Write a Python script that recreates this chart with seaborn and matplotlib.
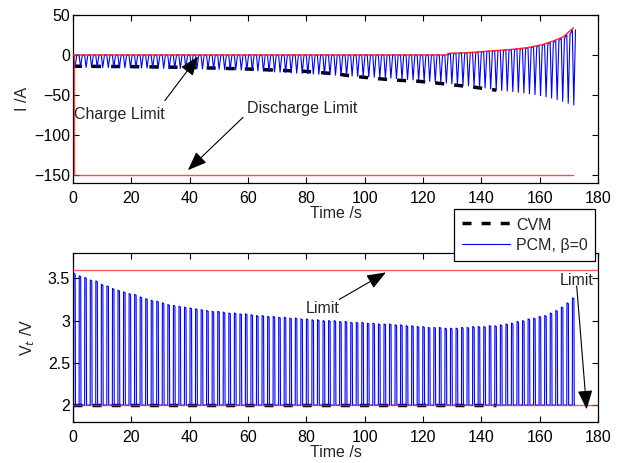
import numpy as np
import matplotlib
matplotlib.use("Agg")
import matplotlib.pyplot as plt
import seaborn as sns

# ---------------- data ----------------
PULSE_START = 0.2      # s, first PCM pulse
PULSE_PERIOD = 1.9     # s, PCM pulse period

# PCM terminal-voltage peak of every pulse (V)
pcm_v_peak = [
    3.56, 3.53, 3.51, 3.48, 3.47, 3.43, 3.41, 3.38, 3.36, 3.34,
    3.32, 3.31, 3.28, 3.26, 3.24, 3.23, 3.21, 3.19, 3.18, 3.17,
    3.16, 3.15, 3.14, 3.13, 3.12, 3.11, 3.11, 3.10, 3.09, 3.09,
    3.08, 3.08, 3.07, 3.06, 3.06, 3.05, 3.05, 3.04, 3.04, 3.03,
    3.03, 3.02, 3.02, 3.01, 3.01, 3.00, 3.00, 3.00, 2.99, 2.99,
    2.98, 2.98, 2.98, 2.97, 2.97, 2.96, 2.96, 2.96, 2.95, 2.95,
    2.94, 2.94, 2.93, 2.93, 2.92, 2.92, 2.92, 2.91, 2.91, 2.91,
    2.92, 2.92, 2.93, 2.93, 2.93, 2.94, 2.94, 2.95, 2.96, 2.97,
    2.99, 3.00, 3.02, 3.03, 3.05, 3.06, 3.09, 3.12, 3.16, 3.21,
    3.27,
]
pcm_v_low = 2.0

# PCM current: lowest value of every pulse (A)
pcm_i_low = [
    -15.5, -15.5, -15.6, -15.6, -15.7, -15.7, -15.8, -15.8, -15.9, -15.9,
    -16.0, -16.1, -16.2, -16.3, -16.4, -16.5, -16.6, -16.7, -16.8, -16.9,
    -17.0, -17.1, -17.3, -17.4, -17.6, -17.7, -17.9, -18.1, -18.3, -18.5,
    -18.8, -19.1, -19.5, -19.9, -20.3, -20.7, -21.1, -21.5, -21.9, -22.3,
    -22.7, -23.1, -23.4, -23.8, -24.1, -24.5, -24.8, -25.2, -25.6, -25.9,
    -26.3, -26.7, -27.0, -27.4, -27.8, -28.2, -28.6, -29.0, -29.5, -30.0,
    -30.6, -31.2, -31.8, -32.4, -33.0, -33.6, -34.3, -35.0, -36.0, -37.0,
    -37.8, -38.6, -39.4, -40.2, -41.2, -42.5, -43.5, -44.3, -45.0, -45.8,
    -46.6, -47.5, -48.5, -49.5, -50.8, -52.2, -53.8, -55.8, -58.0, -60.3,
    -62.5,
]
# PCM current: highest value of every pulse (A) = charge limit
pcm_i_high = [0.0] * 68 + [
    2.0, 2.2, 2.5, 2.8, 3.2, 3.6, 4.2, 5.0, 5.3, 5.8,
    6.3, 6.8, 7.5, 8.3, 9.3, 10.4, 11.8, 13.5, 15.5, 18.0,
    21.0, 25.5, 31.5,
]

# CVM current (A)
cvm_t = [0, 20, 40, 60, 70, 80, 90, 96, 104, 111, 118, 124, 131, 137, 145.2]
cvm_i = [-14.0, -14.5, -15.5, -17.5, -19.0, -20.5, -23.5, -26.5, -29.4,
         -31.5, -32.7, -34.8, -37.6, -40.0, -44.0]
# CVM voltage (V)
cvm_vt = [0, 145.2]
cvm_v = [2.0, 2.0]

# limits
chg_lim_t = [0, 128.5, 128.5, 133, 138, 143, 148, 152, 156, 161, 165, 168, 171.6]
chg_lim_i = [0, 0, 2.0, 2.5, 3.5, 5.0, 6.3, 7.5, 9.3, 13.0, 18.0, 22.5, 34.0]
dis_lim_t = [0.4, 0.4, 171.4]
dis_lim_i = [0, -150, -150]
v_max_t, v_max = [0, 180], [3.6, 3.6]
v_min_t, v_min = [0, 180], [2.0, 2.0]

x_ticks = [0, 20, 40, 60, 80, 100, 120, 140, 160, 180]
i_ticks = [-150, -100, -50, 0, 50]
v_ticks = [2, 2.5, 3, 3.5]
v_tick_labels = ["2", "2.5", "3", "3.5"]

# ---------------- build waveforms from the pulse values ----------------
n = len(pcm_v_peak)
t0 = PULSE_START + PULSE_PERIOD * np.arange(n)

vt, vv = [0.0], [0.0]
for k in range(n):
    vt += [t0[k], t0[k] + 0.05, t0[k] + 0.55, t0[k] + 0.65]
    vv += [pcm_v_low, pcm_v_peak[k], pcm_v_peak[k] - 0.01, pcm_v_low]
vt.append(172.0)
vv.append(pcm_v_low)

it, ii = [0.0], [0.0]
for k in range(n):
    it += [t0[k], t0[k] + 0.5, t0[k] + 1.1]
    ii += [pcm_i_high[k], pcm_i_low[k], pcm_i_high[k]]

# ---------------- figure ----------------
sns.set_theme(style="ticks")
FS = 11.5
plt.rcParams["font.family"] = ["Liberation Sans", "DejaVu Sans"]
plt.rcParams["font.size"] = FS

fig = plt.figure(figsize=(6.28, 4.63), dpi=100)
ax1 = fig.add_axes([0.1162, 0.6048, 0.836, 0.3628])
ax2 = fig.add_axes([0.1162, 0.0886, 0.836, 0.3650])

BLUE = "#0000ff"
RED = "#ff2020"
dash = (0, (2.6, 2.9))

# top: current
sns.lineplot(x=it, y=ii, ax=ax1, color=BLUE, lw=0.8, sort=False, estimator=None, zorder=2)
sns.lineplot(x=cvm_t, y=cvm_i, ax=ax1, color="black", lw=2.5, sort=False,
             estimator=None, zorder=1.5)
ax1.lines[-1].set_linestyle(dash)
sns.lineplot(x=chg_lim_t, y=chg_lim_i, ax=ax1, color=RED, lw=1.0, sort=False,
             estimator=None, zorder=3)
sns.lineplot(x=dis_lim_t, y=dis_lim_i, ax=ax1, color=RED, lw=1.0, sort=False,
             estimator=None, zorder=3, alpha=0.8)

ax1.set_xlim(0, 180)
ax1.set_ylim(-160, 50)
ax1.set_xticks(x_ticks)
ax1.set_yticks(i_ticks)
ax1.set_xlabel("Time /s", labelpad=0, fontsize=FS)
ax1.set_ylabel("I /A", labelpad=3, fontsize=FS)

arrow = dict(arrowstyle="-|>,head_length=0.9,head_width=0.35", color="black",
             lw=0.8, mutation_scale=13, shrinkA=0, shrinkB=0)
ax1.annotate("", xy=(42.9, -2), xytext=(31.5, -57), arrowprops=arrow)
ax1.text(0.4, -74, "Charge Limit", ha="left", va="center", fontsize=FS)
ax1.annotate("", xy=(39.4, -144), xytext=(58.3, -78), arrowprops=arrow)
ax1.text(59.5, -67, "Discharge Limit", ha="left", va="center", fontsize=FS)

# bottom: voltage
sns.lineplot(x=cvm_vt, y=cvm_v, ax=ax2, color="black", lw=2.5, sort=False,
             estimator=None, zorder=1.5, label="CVM")
ax2.lines[-1].set_linestyle(dash)
sns.lineplot(x=vt, y=vv, ax=ax2, color=BLUE, lw=0.8, sort=False, estimator=None,
             zorder=2, label="PCM, \u03b2=0")
sns.lineplot(x=v_max_t, y=v_max, ax=ax2, color=RED, lw=1.0, sort=False,
             estimator=None, zorder=3, alpha=0.75)
sns.lineplot(x=v_min_t, y=v_min, ax=ax2, color=RED, lw=1.0, sort=False,
             estimator=None, zorder=3, alpha=0.75)

ax2.set_xlim(0, 180)
ax2.set_ylim(1.8, 3.8)
ax2.set_xticks(x_ticks)
ax2.set_yticks(v_ticks)
ax2.set_yticklabels(v_tick_labels)
ax2.set_xlabel("Time /s", labelpad=0, fontsize=FS)
ax2.set_ylabel("V$_t$ /V", labelpad=8, fontsize=FS)

ax2.annotate("", xy=(107.3, 3.57), xytext=(91.3, 3.25), arrowprops=arrow)
ax2.text(79.9, 3.14, "Limit", ha="left", va="center", fontsize=FS)
ax2.annotate("", xy=(176.1, 1.95), xytext=(172.7, 3.41), arrowprops=arrow)
ax2.text(167.0, 3.48, "Limit", ha="left", va="center", fontsize=FS)

handles, labels = ax2.get_legend_handles_labels()
leg = ax2.legend(handles[:2], labels[:2], loc="upper right",
                 bbox_to_anchor=(0.994, 1.26), borderaxespad=0,
                 frameon=True, fancybox=False, framealpha=1, edgecolor="black",
                 handlelength=3.0, handleheight=1.2, handletextpad=0.4,
                 borderpad=0.45, labelspacing=0.25, fontsize=FS)
leg.get_frame().set_linewidth(0.9)
leg.set_zorder(10)

for ax in (ax1, ax2):
    for s in ax.spines.values():
        s.set_visible(True)
        s.set_color("black")
        s.set_linewidth(0.9)
    ax.tick_params(direction="in", length=4, width=0.8, top=True, right=True,
                   colors="black", labelsize=FS)
    ax.tick_params(axis="y", pad=2)
    ax.tick_params(axis="x", pad=6)
    ax.set_facecolor("white")

fig.savefig("out.png", dpi=100, facecolor="white")
